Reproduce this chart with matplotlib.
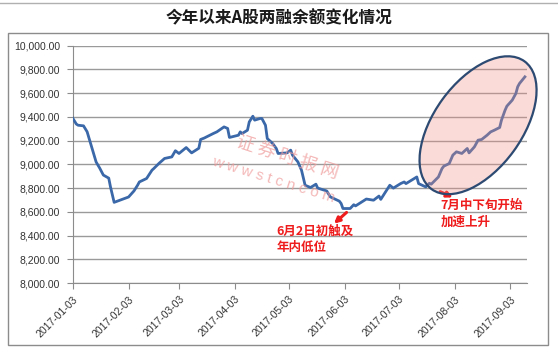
import matplotlib
matplotlib.use("Agg")
import matplotlib.pyplot as plt
import matplotlib.dates as mdates
from matplotlib.patches import Ellipse, Rectangle
from matplotlib.lines import Line2D
from matplotlib.transforms import IdentityTransform
from matplotlib.ticker import FuncFormatter
import pandas as pd

title = "今年以来A股两融余额变化情况"

dates = [
    "2017-01-03", "2017-01-05", "2017-01-06", "2017-01-09", "2017-01-11", "2017-01-16",
    "2017-01-18", "2017-01-20", "2017-01-23", "2017-01-24", "2017-01-26", "2017-02-03",
    "2017-02-06", "2017-02-08", "2017-02-09", "2017-02-13", "2017-02-16", "2017-02-17",
    "2017-02-20", "2017-02-23", "2017-02-27", "2017-03-01", "2017-03-03", "2017-03-07",
    "2017-03-10", "2017-03-14", "2017-03-15", "2017-03-17", "2017-03-22", "2017-03-24",
    "2017-03-28", "2017-03-30", "2017-03-31", "2017-04-05", "2017-04-06", "2017-04-07",
    "2017-04-10", "2017-04-11", "2017-04-13", "2017-04-14", "2017-04-17", "2017-04-18",
    "2017-04-20", "2017-04-21", "2017-04-24", "2017-04-26", "2017-04-27", "2017-05-02",
    "2017-05-04", "2017-05-05", "2017-05-08", "2017-05-10", "2017-05-12", "2017-05-15",
    "2017-05-18", "2017-05-19", "2017-05-24", "2017-05-26", "2017-05-31", "2017-06-01",
    "2017-06-02", "2017-06-06", "2017-06-08", "2017-06-09", "2017-06-15", "2017-06-19",
    "2017-06-22", "2017-06-23", "2017-06-28", "2017-06-30", "2017-07-04", "2017-07-06",
    "2017-07-07", "2017-07-13", "2017-07-14", "2017-07-18", "2017-07-20", "2017-07-21",
    "2017-07-25", "2017-07-27", "2017-07-28", "2017-07-31", "2017-08-02", "2017-08-04",
    "2017-08-07", "2017-08-10", "2017-08-11", "2017-08-14", "2017-08-16", "2017-08-18",
    "2017-08-21", "2017-08-23", "2017-08-25", "2017-08-28", "2017-08-29", "2017-08-31",
    "2017-09-01", "2017-09-04", "2017-09-06", "2017-09-07", "2017-09-08", "2017-09-11",
]
balance = [
    9390, 9340, 9330, 9325, 9275, 9020,
    8968, 8910, 8884, 8808, 8680, 8725,
    8776, 8824, 8852, 8881, 8951, 8965,
    9010, 9050, 9063, 9115, 9092, 9142,
    9097, 9136, 9210, 9222, 9260, 9274,
    9316, 9303, 9227, 9246, 9274, 9260,
    9288, 9358, 9406, 9373, 9387, 9387,
    9330, 9218, 9176, 9134, 9092, 9097,
    9120, 9078, 9021, 8951, 8824, 8805,
    8833, 8800, 8776, 8726, 8690, 8670,
    8628, 8628, 8660, 8650, 8708, 8698,
    8733, 8705, 8824, 8800, 8838, 8852,
    8838, 8894, 8838, 8810, 8841, 8833,
    8894, 8965, 8985, 9007, 9078, 9106,
    9092, 9134, 9097, 9148, 9204, 9210,
    9246, 9274, 9288, 9311, 9373, 9457,
    9491, 9542, 9598, 9654, 9682, 9738,
]
tick_dates = ["2017-01-03", "2017-02-03", "2017-03-03", "2017-04-03", "2017-05-03",
              "2017-06-03", "2017-07-03", "2017-08-03", "2017-09-03"]
y_ticks = [8000, 8200, 8400, 8600, 8800, 9000, 9200, 9400, 9600, 9800, 10000]

note_low = "6月2日初触及\n年内低位"
note_up = "7月中下旬开始\n加速上升"

cjk = ["Noto Sans CJK SC", "DejaVu Sans"]
plt.rcParams["font.family"] = ["Liberation Sans", "Noto Sans CJK SC", "DejaVu Sans"]

x = pd.to_datetime(dates)

fig = plt.figure(figsize=(5.58, 3.52), dpi=100)
fig.patch.set_facecolor("white")
ax = fig.add_axes([0.1303, 0.196, 0.8136, 0.674])

ax.plot(x, balance, color="#3a68a8", lw=2, zorder=3)

ax.set_xlim(pd.Timestamp("2017-01-03"), pd.Timestamp("2017-09-12"))
ax.set_ylim(8000, 10000)
ax.set_yticks(y_ticks)
ax.yaxis.set_major_formatter(FuncFormatter(lambda v, p: f"{v:,.2f}"))
ax.set_xticks(pd.to_datetime(tick_dates))
ax.xaxis.set_major_formatter(mdates.DateFormatter("%Y-%m-%d"))

ax.grid(axis="y", color="#9a9a9a", lw=1)
ax.set_axisbelow(True)
for s in ["top", "right"]:
    ax.spines[s].set_visible(False)
for s in ["left", "bottom"]:
    ax.spines[s].set_color("#8c8c8c")
ax.tick_params(direction="out", length=4, color="#8c8c8c", labelcolor="#333333")
ax.tick_params(axis="y", labelsize=7.5, pad=5)
ax.tick_params(axis="x", labelsize=7.5, pad=4)
for lab in ax.get_xticklabels():
    lab.set_rotation(45)
    lab.set_ha("right")
    lab.set_va("top")
    lab.set_rotation_mode("anchor")

# title and frame
fig.text(0.5, 0.948, title, ha="center", va="center", fontsize=12, fontweight="bold",
         family=cjk, color="#1a1a1a")
fig.add_artist(Rectangle((8 / 558, 7 / 352), 540 / 558, 312 / 352, transform=fig.transFigure,
                         fill=False, edgecolor="#8c8c8c", lw=1))
fig.add_artist(Line2D([0, 1], [0.991, 0.991], transform=fig.transFigure, color="#b0b0b0", lw=1))

# watermark
fig.text(0.515, 0.552, "证 券 时 报 网", rotation=-18, ha="center", va="center",
         fontsize=13, family=cjk, color="#f09a9a", alpha=0.7, style="italic")
fig.text(0.49, 0.49, "w w w s t c n c o m", rotation=-17, ha="center", va="center",
         fontsize=11, color="#f09a9a", alpha=0.7)

# highlight ellipse around the late rise
fig.canvas.draw()
cx, cy = ax.transData.transform((mdates.date2num(pd.Timestamp("2017-08-16")), 9330))
ell = Ellipse((cx, cy), 158, 88, angle=54, transform=IdentityTransform(),
              facecolor=(0.95, 0.56, 0.52, 0.32), edgecolor="#2c4a72", lw=1.6, zorder=5)
fig.add_artist(ell)

# annotations
red = "#ee1c1c"
arrow = dict(arrowstyle="-|>", color=red, lw=2.2, mutation_scale=8, shrinkA=0, shrinkB=0)
ax.annotate("", xy=(pd.Timestamp("2017-05-28"), 8500), xytext=(pd.Timestamp("2017-06-04"), 8595),
            arrowprops=arrow)
ax.text(pd.Timestamp("2017-04-26"), 8490, note_low, color=red, fontsize=9, fontweight="bold",
        family=cjk, va="top", ha="left", linespacing=1.3)
ax.annotate("", xy=(pd.Timestamp("2017-08-02"), 8722), xytext=(pd.Timestamp("2017-07-26"), 8770),
            arrowprops=arrow, annotation_clip=False)
ax.text(pd.Timestamp("2017-07-26"), 8705, note_up, color=red, fontsize=9, fontweight="bold",
        family=cjk, va="top", ha="left", linespacing=1.3)

fig.savefig("out.png", dpi=100)
